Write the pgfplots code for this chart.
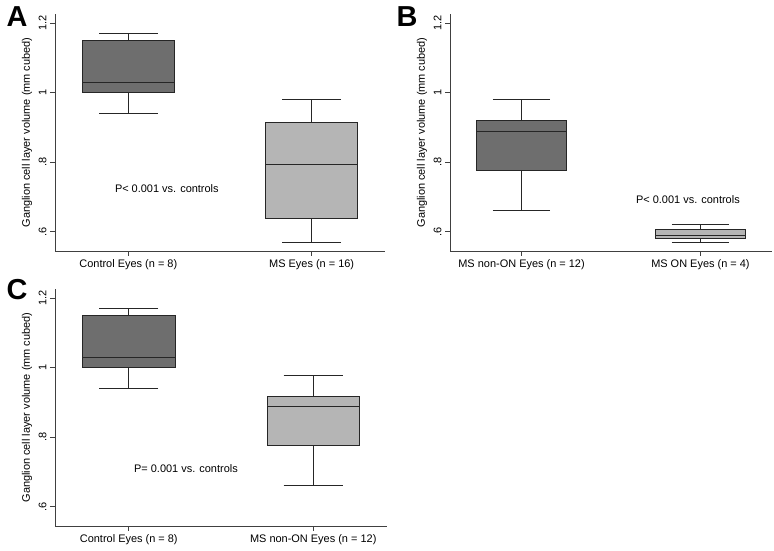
\documentclass[border=0pt]{standalone}
\usepackage{fontspec}
\setmainfont{Liberation Sans}
\usepackage{pgfplots}
\usepgfplotslibrary{statistics}
\pgfplotsset{compat=1.18}

\definecolor{boxdark}{gray}{0.43}
\definecolor{boxlight}{gray}{0.71}
\definecolor{axisgray}{gray}{0.25}

\newcommand{\lbl}{\fontsize{11}{13}\selectfont}

\pgfplotsset{
  ganglion/.style={
    scale only axis,
    height=237bp,
    xmin=0.6, xmax=2.4,
    ymin=0.544, ymax=1.227,
    axis x line*=bottom,
    axis y line*=left,
    axis line style={axisgray, line width=0.8pt},
    tick style={axisgray, line width=0.8pt},
    tick align=outside,
    major tick length=5bp,
    xtick={1,2},
    ytick={0.6,0.8,1,1.2},
    yticklabels={.6,.8,1,1.2},
    yticklabel style={rotate=90, anchor=south, font=\lbl},
    xticklabel style={font=\lbl},
    ylabel={Ganglion cell layer volume (mm cubed)},
    ylabel style={at={([xshift=-28bp]axis description cs:0,0.5)}, anchor=center, font=\lbl},
    boxplot/draw direction=y,
    boxplot/box extend=0.5,
    boxplot/whisker extend=0.32,
    clip=false,
  },
  gbox/.style={draw=black!85, line width=0.7pt, fill=#1},
}

\begin{document}
\begin{tikzpicture}
\path[use as bounding box] (0,0) rectangle (774bp,551bp);

% panel A
\begin{axis}[ganglion, width=330bp, at={(55bp,300bp)}, anchor=south west,
  xticklabels={Control Eyes (n = 8), MS Eyes (n = 16)}]
\addplot[gbox=boxdark, boxplot prepared={draw position=1,
  lower whisker=0.940, lower quartile=1.001, median=1.031,
  upper quartile=1.151, upper whisker=1.170}] coordinates {};
\addplot[gbox=boxlight, boxplot prepared={draw position=2,
  lower whisker=0.569, lower quartile=0.638, median=0.794,
  upper quartile=0.914, upper whisker=0.981}] coordinates {};
\node[font=\lbl] at (axis cs:1.21,0.723) {P< 0.001 vs. controls};
\end{axis}

% panel B
\begin{axis}[ganglion, width=322bp, at={(450bp,300bp)}, anchor=south west,
  xticklabels={MS non-ON Eyes (n = 12), MS ON Eyes (n = 4)}]
\addplot[gbox=boxdark, boxplot prepared={draw position=1,
  lower whisker=0.660, lower quartile=0.776, median=0.890,
  upper quartile=0.920, upper whisker=0.981}] coordinates {};
\addplot[gbox=boxlight, boxplot prepared={draw position=2,
  lower whisker=0.569, lower quartile=0.580, median=0.590,
  upper quartile=0.605, upper whisker=0.620}] coordinates {};
\node[font=\lbl] at (axis cs:1.93,0.693) {P< 0.001 vs. controls};
\end{axis}

% panel C
\begin{axis}[ganglion, width=332bp, at={(55bp,25bp)}, anchor=south west,
  xticklabels={Control Eyes (n = 8), MS non-ON Eyes (n = 12)}]
\addplot[gbox=boxdark, boxplot prepared={draw position=1,
  lower whisker=0.940, lower quartile=1.000, median=1.030,
  upper quartile=1.151, upper whisker=1.170}] coordinates {};
\addplot[gbox=boxlight, boxplot prepared={draw position=2,
  lower whisker=0.660, lower quartile=0.776, median=0.890,
  upper quartile=0.919, upper whisker=0.979}] coordinates {};
\node[font=\lbl] at (axis cs:1.31,0.710) {P= 0.001 vs. controls};
\end{axis}

\node[anchor=base west, font=\bfseries\fontsize{29}{30}\selectfont] at (3bp,524bp) {A};
\node[anchor=base west, font=\bfseries\fontsize{29}{30}\selectfont] at (393bp,524bp) {B};
\node[anchor=base west, font=\bfseries\fontsize{29}{30}\selectfont] at (3bp,251bp) {C};
\end{tikzpicture}
\end{document}
